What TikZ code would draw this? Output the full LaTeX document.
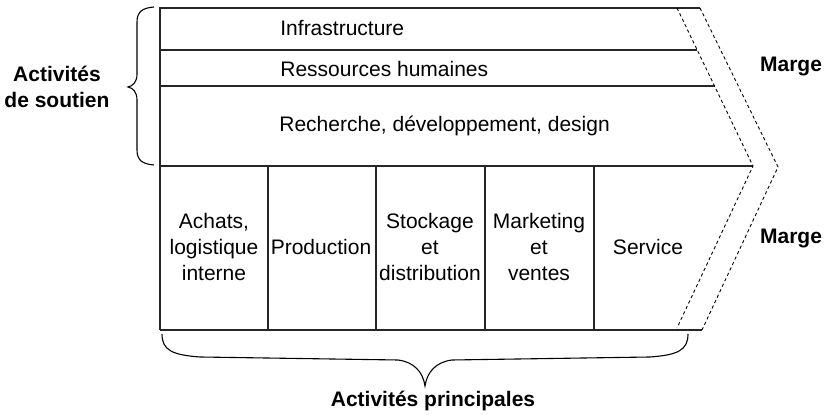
\documentclass[tikz,border=0pt]{standalone}
\usepackage{fontspec}
\setmainfont{Liberation Sans}
\begin{document}
\begin{tikzpicture}[x=0.5pt,y=-0.5pt,
  box/.style={line width=0.7pt, draw=black!85},
  margeline/.style={draw=black, line width=0.45pt, dash pattern=on 1.6pt off 1.4pt},
  bracepath/.style={draw=black, line width=0.55pt},
  lbl/.style={font=\fontsize{10.5}{12.8}\selectfont, align=center, inner sep=0pt},
  boldlbl/.style={font=\fontsize{10.5}{13}\selectfont\bfseries, align=center, inner sep=0pt}]
\useasboundingbox (0,0) rectangle (825,415);

% key points
\coordinate (tl) at (160,8);
\coordinate (bl) at (160,330);
\coordinate (otop) at (700,8);
\coordinate (itop) at (677,8);
\coordinate (itip) at (753,166);
\coordinate (otip) at (778,167);
\coordinate (ibot) at (677,328);
\coordinate (obot) at (702,330);

% frame
\draw[box] (bl) -- (tl) -- (otop);
\draw[box] (bl) -- (obot);
\draw[box] (160,50) -- (697.2,50);
\draw[box] (160,86) -- (714.5,86);
\draw[box] (160,166) -- (itip);
\foreach \x in {268,376,485,594} \draw[box] (\x,166) -- (\x,330);

% margin chevrons
\draw[margeline] (itop) -- (itip) -- (ibot);
\draw[margeline] (otop) -- (otip) -- (obot);

% support activities
\node[lbl, anchor=base west] (infra) at (280,36) {Infrastructure};
\node[lbl, anchor=base west] (rh) at (280,77) {Ressources humaines};
\node[lbl, anchor=base west] (rd) at (279,132) {Recherche, développement, design};

% primary activities
\node[lbl] (achats) at (214,247) {Achats,\\logistique\\interne};
\node[lbl] (prod) at (321,247) {Production};
\node[lbl] (stock) at (430,247) {Stockage\\et\\distribution};
\node[lbl] (mkt) at (539,247) {Marketing\\et\\ventes};
\node[lbl] (serv) at (648,247) {Service};

% braces
\draw[bracepath] (154,7) .. controls (142,8) and (137,12) .. (137,22) -- (137,74)
  .. controls (137,82) and (133,86) .. (128,87)
  .. controls (133,88) and (137,92) .. (137,100) -- (137,150)
  .. controls (137,160) and (142,164) .. (154,165);
\draw[bracepath] (162,334) .. controls (162,350) and (172,355) .. (200,357) -- (398,360)
  .. controls (414,362) and (423,372) .. (425,386)
  .. controls (427,372) and (436,362) .. (452,360) -- (650,357)
  .. controls (678,355) and (688,350) .. (688,334);

% bold labels
\node[boldlbl] (soutien) at (57,87) {Activités\\de soutien};
\node[boldlbl, anchor=base] (principales) at (433,407) {Activités principales};
\node[boldlbl] (marge1) at (791,67) {Marge};
\node[boldlbl] (marge2) at (791,239) {Marge};
\end{tikzpicture}
\end{document}
